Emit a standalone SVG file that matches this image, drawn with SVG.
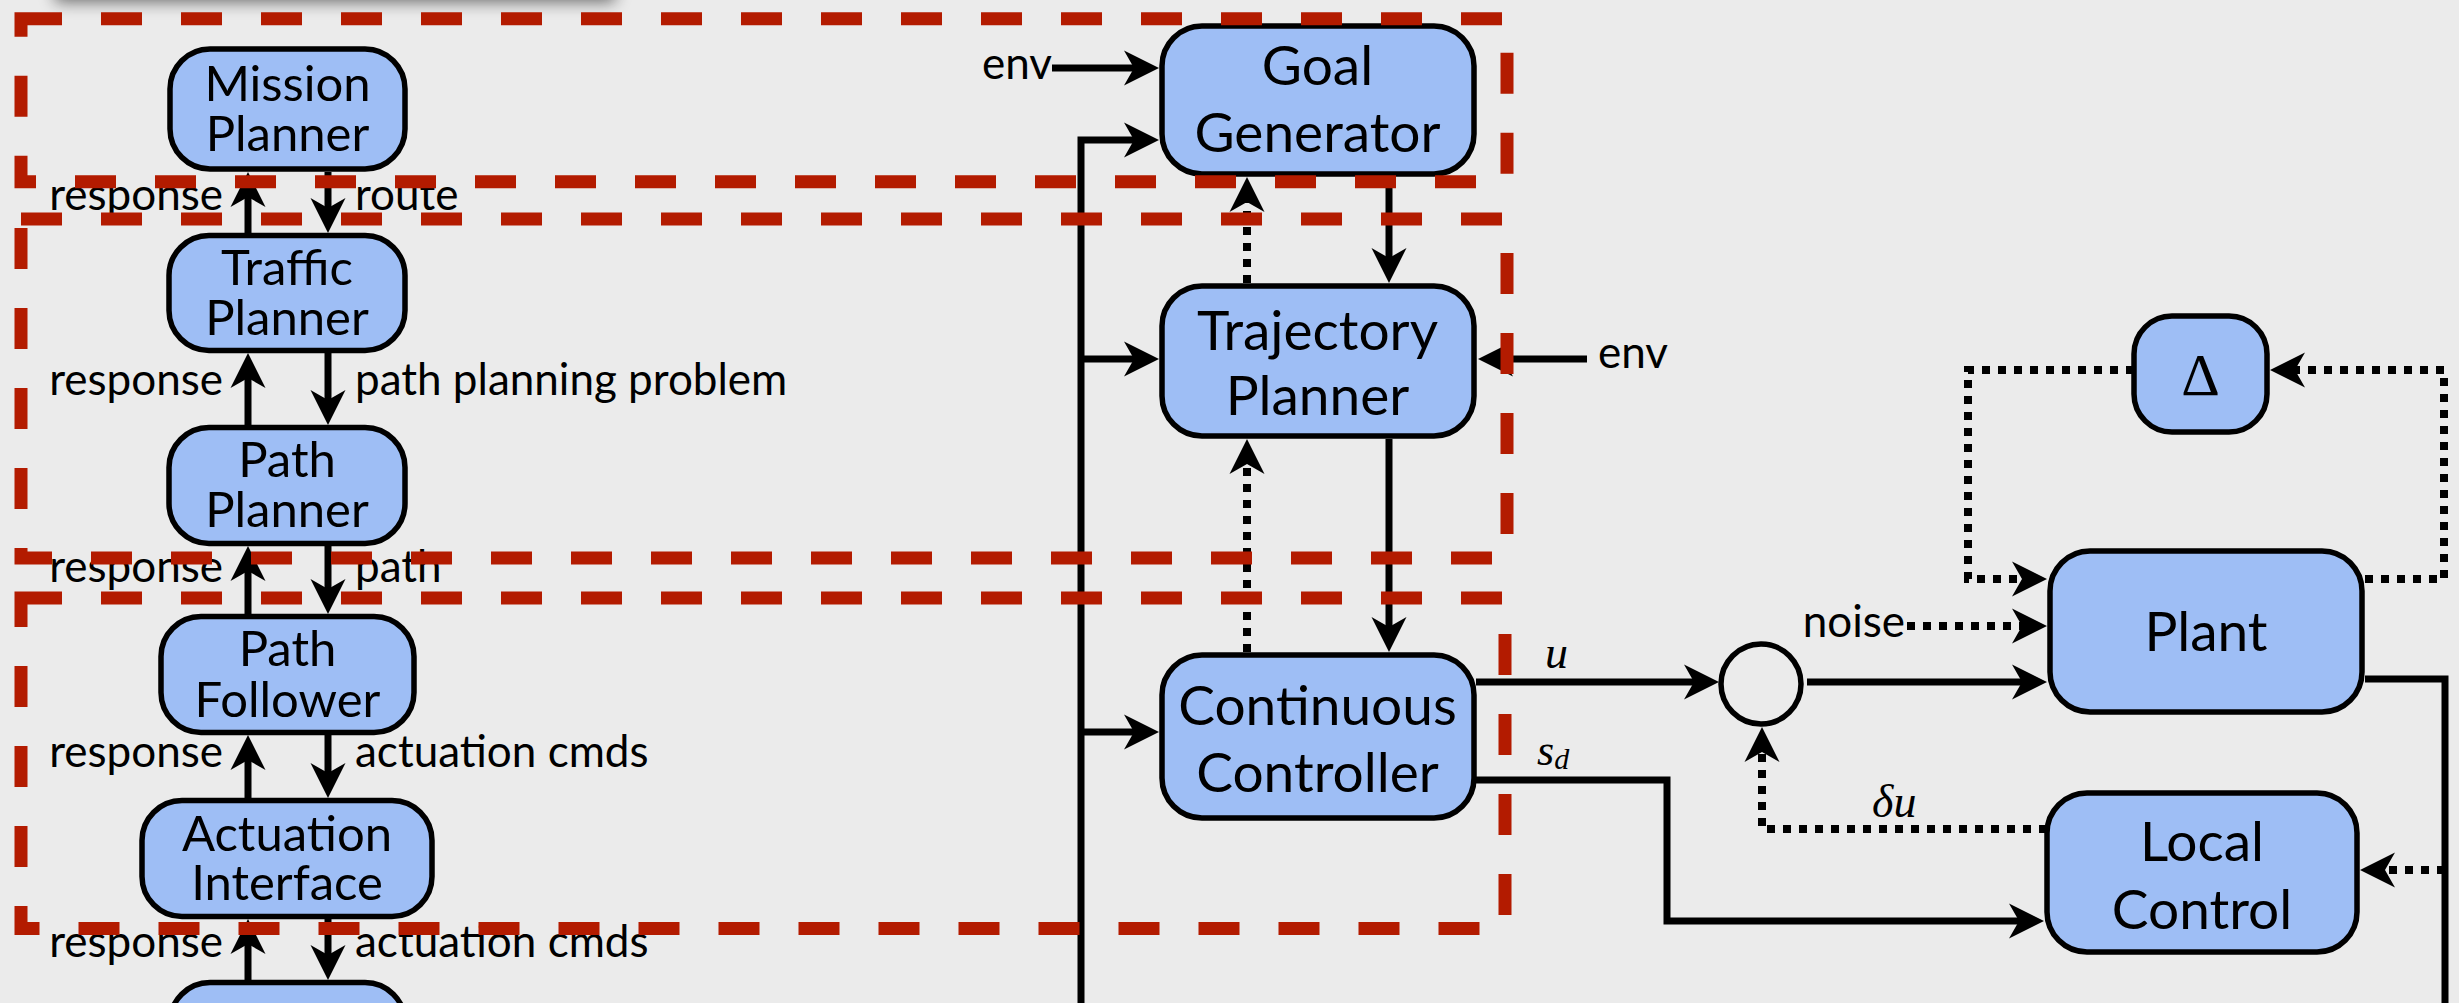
<svg xmlns="http://www.w3.org/2000/svg" width="2459" height="1003" viewBox="0 0 2459 1003">
  <style>
    .node { fill: #9ebef5; stroke: #000; stroke-width: 5.5; }
    .ntl { font-family: Lato, "Open Sans", sans-serif; font-size: 49px; fill: #000; text-anchor: middle; }
    .ntr { font-family: Lato, "Open Sans", sans-serif; font-size: 55px; fill: #000; text-anchor: middle; }
    .lbl { font-family: Lato, "Open Sans", sans-serif; font-size: 44px; fill: #000; }
    .math { font-family: "Liberation Serif", serif; font-style: italic; fill: #000; }
    .wire { fill: none; stroke: #000; stroke-width: 7; }
    .dot { fill: none; stroke: #000; stroke-width: 8; stroke-dasharray: 8 8; }
    .arr { marker-end: url(#ah); }
    .region { fill: none; stroke: #b31b00; stroke-width: 13; stroke-dasharray: 41 39; }
  </style>
  <defs>
    <marker id="ah" markerUnits="userSpaceOnUse" viewBox="-36 -19 46 38" markerWidth="46" markerHeight="38" refX="-10" refY="0" orient="auto" overflow="visible">
      <path d="M0,0 L-35,-17.5 L-25,0 L-35,17.5 Z" fill="#000"/>
    </marker>
    <filter id="soft" x="-20%" y="-100%" width="140%" height="300%">
      <feGaussianBlur stdDeviation="8"/>
    </filter>
  </defs>

  <rect width="2459" height="1003" fill="#ebebeb"/>
  <!-- drop shadow of the panel above -->
  <rect x="55" y="-60" width="560" height="62" fill="#000" opacity="0.55" filter="url(#soft)"/>

  <!-- connectors -->
  <g id="connectors">
    <!-- left column: requests down, responses up -->
    <path class="wire arr" d="M248,233 V182"/>
    <path class="wire arr" d="M248,425 V363"/>
    <path class="wire arr" d="M248,614 V556"/>
    <path class="wire arr" d="M248,798 V745"/>
    <path class="wire arr" d="M248,982 V929"/>
    <path class="wire arr" d="M328,172 V223"/>
    <path class="wire arr" d="M328,353 V415"/>
    <path class="wire arr" d="M328,546 V604"/>
    <path class="wire arr" d="M328,735 V788"/>
    <path class="wire arr" d="M328,919 V970"/>

    <!-- state bus -->
    <path class="wire arr" d="M1081,1010 V140 H1149"/>
    <path class="wire arr" d="M1081,359 H1149"/>
    <path class="wire arr" d="M1081,732 H1149"/>
    <path class="wire arr" d="M1052,68 H1149"/>
    <path class="wire arr" d="M1587,359 H1488"/>

    <!-- planner chain -->
    <path class="wire arr" d="M1389,177 V273"/>
    <path class="dot arr" d="M1247,283 V187"/>
    <path class="wire arr" d="M1389,439 V642"/>
    <path class="dot arr" d="M1247,652 V449"/>

    <!-- control loop -->
    <path class="wire arr" d="M1476,682 H1709"/>
    <path class="wire arr" d="M1807,682 H2037"/>
    <path class="wire arr" d="M1476,780 H1667 V921 H2034"/>
    <path class="dot arr" d="M1907,626 H2037"/>
    <path class="dot arr" d="M2134,370 H1968 V579 H2037"/>
    <path class="dot arr" d="M2365,579 H2444 V370 H2280"/>
    <path class="wire" d="M2365,679 H2445 V1010"/>
    <path class="dot arr" d="M2445,870 H2370"/>
    <path class="dot arr" d="M2047,829 H1762 V737"/>
  </g>

  <!-- connector labels -->
  <g id="labels">
    <text class="lbl" x="223" y="210" text-anchor="end">response</text>
    <text class="lbl" x="223" y="395" text-anchor="end">response</text>
    <text class="lbl" x="223" y="582" text-anchor="end">response</text>
    <text class="lbl" x="223" y="767" text-anchor="end">response</text>
    <text class="lbl" x="223" y="957" text-anchor="end">response</text>
    <text class="lbl" x="355" y="210">route</text>
    <text class="lbl" x="355" y="395">path planning problem</text>
    <text class="lbl" x="355" y="582">path</text>
    <text class="lbl" x="355" y="767">actuation cmds</text>
    <text class="lbl" x="355" y="957">actuation cmds</text>
    <text class="lbl" x="1052" y="79" text-anchor="end">env</text>
    <text class="lbl" x="1598" y="368">env</text>
    <text class="lbl" x="1905" y="637" text-anchor="end">noise</text>
    <text class="math" x="1545" y="668" font-size="46">u</text>
    <text class="math" x="1537" y="765" font-size="44">s<tspan font-size="30" dy="4">d</tspan></text>
    <text class="math" x="1872" y="817" font-size="46">δu</text>
  </g>

  <!-- planning hierarchy -->
  <g id="mission-planner">
    <rect class="node" x="170" y="49" width="235" height="120" rx="40"/>
    <text class="ntl" x="287.5" y="101">Mission<tspan x="287.5" dy="50">Planner</tspan></text>
  </g>
  <g id="traffic-planner">
    <rect class="node" x="169" y="235.5" width="236" height="115" rx="40"/>
    <text class="ntl" x="287" y="285">Traffic<tspan x="287" dy="50">Planner</tspan></text>
  </g>
  <g id="path-planner">
    <rect class="node" x="169" y="427.5" width="236" height="116" rx="40"/>
    <text class="ntl" x="287" y="477">Path<tspan x="287" dy="50">Planner</tspan></text>
  </g>
  <g id="path-follower">
    <rect class="node" x="161" y="616.5" width="253" height="116" rx="40"/>
    <text class="ntl" x="287.5" y="666">Path<tspan x="287.5" dy="51">Follower</tspan></text>
  </g>
  <g id="actuation-interface">
    <rect class="node" x="142" y="800.5" width="290" height="116" rx="40"/>
    <text class="ntl" x="287" y="851">Actuation<tspan x="287" dy="49">Interface</tspan></text>
  </g>
  <g id="lower-node">
    <rect class="node" x="170" y="982.5" width="235" height="110" rx="40"/>
  </g>

  <!-- control blocks -->
  <g id="goal-generator">
    <rect class="node" x="1162" y="26" width="312" height="148" rx="40"/>
    <text class="ntr" x="1317.5" y="85">Goal<tspan x="1317.5" dy="67">Generator</tspan></text>
  </g>
  <g id="trajectory-planner">
    <rect class="node" x="1162" y="286" width="312" height="150" rx="40"/>
    <text class="ntr" x="1317.5" y="350">Trajectory<tspan x="1317.5" dy="65">Planner</tspan></text>
  </g>
  <g id="continuous-controller">
    <rect class="node" x="1162" y="655" width="312" height="163" rx="40"/>
    <text class="ntr" x="1317.5" y="725">Continuous<tspan x="1317.5" dy="67">Controller</tspan></text>
  </g>
  <g id="sum">
    <circle cx="1761" cy="684" r="40" fill="none" stroke="#000" stroke-width="5.5"/>
  </g>
  <g id="plant">
    <rect class="node" x="2050" y="551" width="312" height="161" rx="40"/>
    <text class="ntr" x="2206" y="651">Plant</text>
  </g>
  <g id="local-control">
    <rect class="node" x="2047" y="793" width="310" height="159" rx="40"/>
    <text class="ntr" x="2202" y="861">Local<tspan x="2202" dy="68">Control</tspan></text>
  </g>
  <g id="delta">
    <rect class="node" x="2134" y="316" width="133" height="116" rx="38"/>
    <text x="2200.5" y="395" font-family="Liberation Serif, serif" font-size="60" text-anchor="middle">Δ</text>
  </g>

  <!-- layer boundaries -->
  <g id="regions">
    <rect class="region" x="21" y="18.7" width="1486" height="163"/>
    <rect class="region" x="21" y="219" width="1486" height="339"/>
    <rect class="region" x="21" y="598" width="1484" height="330.5"/>
  </g>
</svg>
